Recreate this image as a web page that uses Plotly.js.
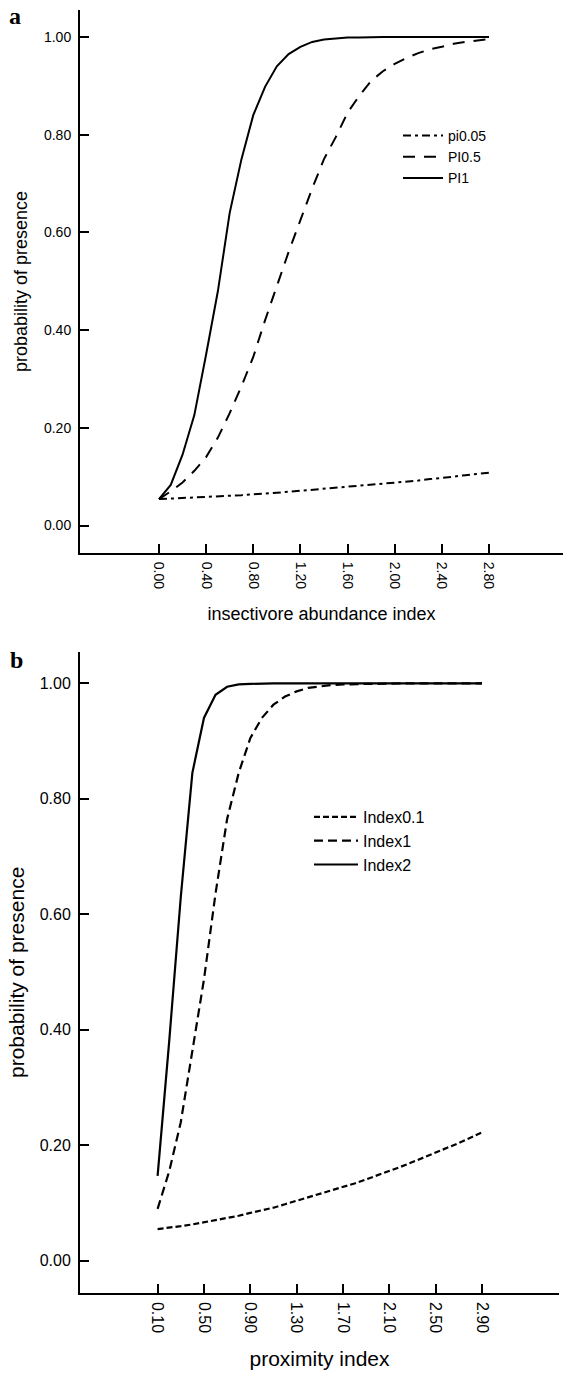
<!DOCTYPE html>
<html>
<head>
<meta charset="utf-8">
<script src="https://cdn.plot.ly/plotly-3.0.1.min.js"></script>
<style>
  html, body { margin: 0; padding: 0; background: #fff; }
  #chart { width: 564px; height: 1385px; }
</style>
</head>
<body>
<div id="chart"></div>
<script>
// ---------- Panel a data ----------
const xAbund = [0,0.1,0.2,0.3,0.4,0.5,0.6,0.7,0.8,0.9,1.0,1.1,1.2,1.3,1.4,1.5,1.6,1.7,1.8,1.9,2.0,2.1,2.2,2.3,2.4,2.5,2.6,2.7,2.8];
const pi005 = [0.054,0.055,0.056,0.057,0.058,0.059,0.061,0.062,0.064,0.065,0.067,0.069,0.071,0.073,0.075,0.077,0.079,0.081,0.083,0.085,0.088,0.090,0.092,0.095,0.097,0.100,0.103,0.105,0.108];
const pi05  = [0.054,0.070,0.088,0.112,0.140,0.180,0.230,0.285,0.345,0.420,0.490,0.560,0.625,0.690,0.750,0.795,0.845,0.880,0.910,0.930,0.945,0.957,0.967,0.975,0.980,0.986,0.990,0.993,0.996];
const pi1   = [0.054,0.083,0.145,0.226,0.350,0.480,0.640,0.750,0.840,0.898,0.940,0.965,0.980,0.990,0.995,0.997,0.999,0.999,1.0,1.0,1.0,1.0,1.0,1.0,1.0,1.0,1.0,1.0,1.0];
const namesA = ["pi0.05", "PI0.5", "PI1"];
const xTickValsA = [0,0.4,0.8,1.2,1.6,2.0,2.4,2.8];
const xTickTextA = ["0.00","0.40","0.80","1.20","1.60","2.00","2.40","2.80"];

// ---------- Panel b data ----------
const xProx = [0.1,0.2,0.3,0.4,0.5,0.6,0.7,0.8,0.9,1.0,1.1,1.2,1.3,1.4,1.5,1.6,1.7,1.8,1.9,2.0,2.1,2.2,2.3,2.4,2.5,2.6,2.7,2.8,2.9];
const index01 = [0.055,0.057,0.060,0.063,0.0665,0.070,0.074,0.078,0.083,0.087,0.092,0.098,0.104,0.109,0.115,0.121,0.127,0.134,0.141,0.148,0.155,0.163,0.171,0.179,0.187,0.196,0.204,0.213,0.2225];
const index1  = [0.090,0.155,0.240,0.360,0.487,0.636,0.765,0.845,0.905,0.940,0.963,0.977,0.986,0.992,0.995,0.997,0.998,0.999,0.999,0.999,1.0,1.0,1.0,1.0,1.0,1.0,1.0,1.0,1.0];
const index2  = [0.147,0.380,0.630,0.845,0.940,0.980,0.994,0.998,0.999,1.0,1.0,1.0,1.0,1.0,1.0,1.0,1.0,1.0,1.0,1.0,1.0,1.0,1.0,1.0,1.0,1.0,1.0,1.0,1.0];
const namesB = ["Index0.1", "Index1", "Index2"];
const xTickValsB = [0.1,0.5,0.9,1.3,1.7,2.1,2.5,2.9];
const xTickTextB = ["0.10","0.50","0.90","1.30","1.70","2.10","2.50","2.90"];

// ---------- Shared ----------
const yTickVals = [0,0.2,0.4,0.6,0.8,1.0];
const yTickText = ["0.00","0.20","0.40","0.60","0.80","1.00"];

const FONT = "Liberation Sans, Arial, sans-serif";
const W = 564, H = 1385;

const traces = [
  {x: xAbund, y: pi005, name: namesA[0], mode: "lines", xaxis: "x", yaxis: "y", legend: "legend",
   line: {color: "#000", width: 2, dash: "8px,4px,3px,4px"}},
  {x: xAbund, y: pi05, name: namesA[1], mode: "lines", xaxis: "x", yaxis: "y", legend: "legend",
   line: {color: "#000", width: 2, dash: "12px,9px"}},
  {x: xAbund, y: pi1, name: namesA[2], mode: "lines", xaxis: "x", yaxis: "y", legend: "legend",
   line: {color: "#000", width: 2}},
  {x: xProx, y: index01, name: namesB[0], mode: "lines", xaxis: "x2", yaxis: "y2", legend: "legend2",
   line: {color: "#000", width: 2.2, dash: "6px,3px"}},
  {x: xProx, y: index1, name: namesB[1], mode: "lines", xaxis: "x2", yaxis: "y2", legend: "legend2",
   line: {color: "#000", width: 2.2, dash: "9px,5px"}},
  {x: xProx, y: index2, name: namesB[2], mode: "lines", xaxis: "x2", yaxis: "y2", legend: "legend2",
   line: {color: "#000", width: 2.2}}
];

function axisCommon(extra) {
  return Object.assign({
    showline: true, linewidth: 2, linecolor: "#000",
    ticks: "inside", ticklen: 9, tickwidth: 2, tickcolor: "#000",
    showgrid: false, zeroline: false, fixedrange: true
  }, extra);
}

const layout = {
  width: W, height: H,
  margin: {l: 0, r: 0, t: 0, b: 0},
  paper_bgcolor: "#fff", plot_bgcolor: "#fff",
  font: {family: FONT, color: "#000"},
  showlegend: true,
  xaxis: axisCommon({
    domain: [80 / W, 563 / W], anchor: "y",
    range: [-0.670, 3.428],
    tickmode: "array", tickvals: xTickValsA, ticktext: xTickTextA,
    tickangle: 90, tickfont: {family: FONT, size: 14, color: "#000"},
    ticklabelstandoff: 4,
    title: {text: "insectivore abundance index", font: {family: FONT, size: 18, color: "#000"}, standoff: 19}
  }),
  yaxis: axisCommon({
    domain: [1 - 553 / H, 1 - 10 / H], anchor: "x",
    range: [-0.0563, 1.0553],
    tickmode: "array", tickvals: yTickVals, ticktext: yTickText,
    tickfont: {family: FONT, size: 14, color: "#000"},
    ticklabelstandoff: 4,
    title: {text: "probability of presence", font: {family: FONT, size: 18, color: "#000"}, standoff: 12}
  }),
  xaxis2: axisCommon({
    domain: [80 / W, 559 / W], anchor: "y2",
    range: [-0.5698, 3.5645],
    tickmode: "array", tickvals: xTickValsB, ticktext: xTickTextB,
    tickangle: 90, tickfont: {family: FONT, size: 16, color: "#000"},
    ticklabelstandoff: 4,
    title: {text: "proximity index", font: {family: FONT, size: 21, color: "#000"}, standoff: 19}
  }),
  yaxis2: axisCommon({
    domain: [1 - 1292.7 / H, 1 - 652 / H], anchor: "x2",
    range: [-0.0552, 1.0542],
    tickmode: "array", tickvals: yTickVals, ticktext: yTickText,
    tickfont: {family: FONT, size: 16, color: "#000"},
    ticklabelstandoff: 4,
    title: {text: "probability of presence", font: {family: FONT, size: 21, color: "#000"}, standoff: 9}
  }),
  legend: {
    x: 398 / W, y: 1 - 120 / H, xanchor: "left", yanchor: "top",
    bgcolor: "rgba(0,0,0,0)", borderwidth: 0,
    font: {family: FONT, size: 14, color: "#000"},
    itemwidth: 40,
    tracegroupgap: 0
  },
  legend2: {
    x: 309 / W, y: 1 - 800 / H, xanchor: "left", yanchor: "top",
    bgcolor: "rgba(0,0,0,0)", borderwidth: 0,
    font: {family: FONT, size: 16, color: "#000"},
    itemwidth: 44,
    tracegroupgap: 0
  },
  annotations: [
    {text: "<b>a</b>", xref: "paper", yref: "paper", x: 15 / W, y: 1 - 16 / H,
     xanchor: "center", yanchor: "middle", showarrow: false,
     font: {family: "Liberation Serif, Times New Roman, serif", size: 24, color: "#000"}},
    {text: "<b>b</b>", xref: "paper", yref: "paper", x: 16 / W, y: 1 - 660 / H,
     xanchor: "center", yanchor: "middle", showarrow: false,
     font: {family: "Liberation Serif, Times New Roman, serif", size: 24, color: "#000"}}
  ]
};

Plotly.newPlot("chart", traces, layout, {displayModeBar: false, staticPlot: true});
</script>
</body>
</html>
